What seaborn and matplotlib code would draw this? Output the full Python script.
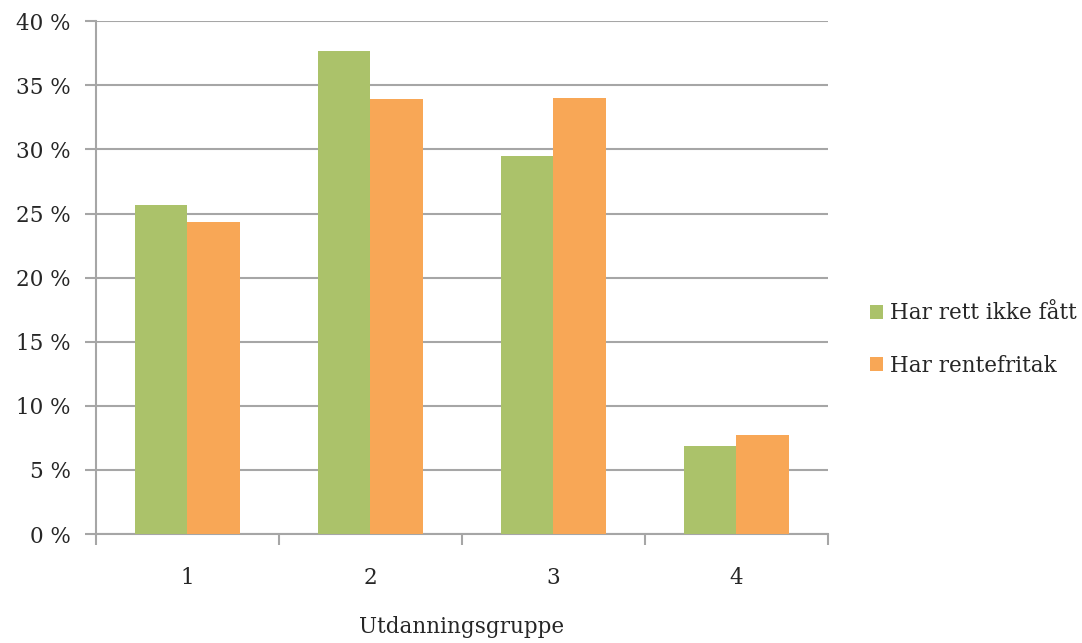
import pandas as pd
import matplotlib.pyplot as plt
import seaborn as sns
from matplotlib.ticker import FuncFormatter, FixedLocator

groups = ["1", "2", "3", "4"]
series_names = ["Har rett ikke fått", "Har rentefritak"]
ikke_fatt = [25.7, 37.7, 29.5, 6.9]
rentefritak = [24.3, 33.9, 34.0, 7.7]
y_ticks = [0, 5, 10, 15, 20, 25, 30, 35, 40]

df = pd.DataFrame({
    "gruppe": groups * 2,
    "serie": [series_names[0]] * 4 + [series_names[1]] * 4,
    "andel": ikke_fatt + rentefritak,
})

sns.set_style("white")
plt.rcParams["font.family"] = ["DejaVu Serif"]
fs = 15.5

fig = plt.figure(figsize=(10.82, 6.43), dpi=100)
ax = fig.add_axes([0.0887, 0.1695, 0.6765, 0.7975])

grid_col = "#a6a6a6"
sns.barplot(data=df, x="gruppe", y="andel", hue="serie",
            palette=["#abc26a", "#f8a756"], width=0.575, saturation=1,
            linewidth=0, ax=ax, zorder=3)

ax.set_ylim(0, 40)
ax.set_xlim(-0.5, 3.5)
ax.set_yticks(y_ticks)
ax.yaxis.set_major_formatter(FuncFormatter(lambda v, p: f"{v:.0f} %"))
ax.yaxis.grid(True, color=grid_col, linewidth=1.5, zorder=0)
ax.set_axisbelow(True)

ax.xaxis.set_minor_locator(FixedLocator([-0.5, 0.5, 1.5, 2.5, 3.5]))
ax.tick_params(axis="x", which="major", length=0, pad=24, labelsize=fs)
ax.tick_params(axis="x", which="minor", length=8, width=1.5, color=grid_col, direction="out", bottom=True)
ax.tick_params(axis="y", length=8, width=1.5, color=grid_col, direction="out", left=True, labelsize=fs, pad=10)

for s in ["top", "right"]:
    ax.spines[s].set_visible(False)
for s in ["left", "bottom"]:
    ax.spines[s].set_color(grid_col)
    ax.spines[s].set_linewidth(1.5)

ax.set_ylabel("")
ax.set_xlabel("Utdanningsgruppe", fontsize=fs, labelpad=19)

handles, labels = ax.get_legend_handles_labels()
ax.legend(handles, labels, loc="center left", bbox_to_anchor=(0.786, 0.472),
          bbox_transform=fig.transFigure, frameon=False, fontsize=fs,
          handlelength=0.6, handleheight=0.6, handletextpad=0.35, labelspacing=1.4)

fig.savefig("out.png", dpi=100)
